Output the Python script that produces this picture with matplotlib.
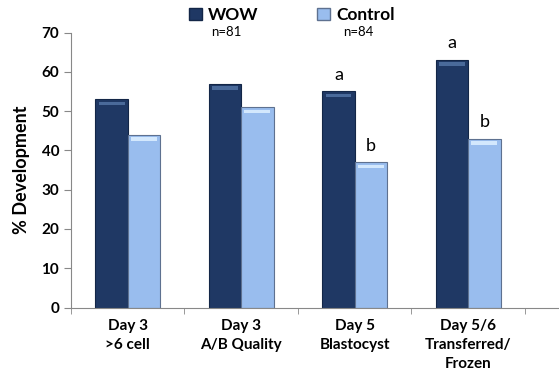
import numpy as np
import matplotlib.pyplot as plt
from matplotlib.patches import Patch

plt.rcParams['font.family'] = ['Lato', 'DejaVu Sans']

categories = ['Day 3\n>6 cell', 'Day 3\nA/B Quality', 'Day 5\nBlastocyst', 'Day 5/6\nTransferred/\nFrozen']
wow = [53, 57, 55, 63]
control = [44, 51, 37, 43]
wow_letters = ['', '', 'a', 'a']
control_letters = ['', '', 'b', 'b']
series_names = ['WOW', 'Control']
n_labels = ['n=81', 'n=84']

dark = '#1F3864'
light = '#99BDEE'

fig = plt.figure(figsize=(5.59, 3.83), dpi=100)
ax = fig.add_axes([0.127, 0.197, 0.873, 0.718])

x = np.arange(len(categories))
w = 0.285

ax.bar(x - w / 2, wow, w, color=dark, edgecolor='#132647', linewidth=0.8, zorder=2)
ax.bar(x + w / 2, control, w, color=light, edgecolor='#5E7190', linewidth=0.8, zorder=2)
# bevel highlight at the top of each bar
ax.bar(x - w / 2, 0.9, w * 0.8, bottom=np.array(wow) - 1.5, color='#4A6A9A', linewidth=0, zorder=3)
ax.bar(x + w / 2, 0.9, w * 0.8, bottom=np.array(control) - 1.5, color='#D3E8FD', linewidth=0, zorder=3)

for i in range(len(categories)):
    if wow_letters[i]:
        ax.text(x[i] - w / 2, wow[i] + 2.2, wow_letters[i], ha='center', va='bottom', fontsize=13)
    if control_letters[i]:
        ax.text(x[i] + w / 2, control[i] + 2.2, control_letters[i], ha='center', va='bottom', fontsize=13)

ax.set_xlim(-0.5, 3.8)
ax.set_ylim(0, 70)
ax.set_yticks(range(0, 71, 10))
ax.set_xticks(x)
ax.set_xticklabels(categories, fontsize=11, fontweight='bold', linespacing=1.45)
ax.set_xticks(np.arange(-0.5, 3.6, 1), minor=True)
ax.tick_params(axis='x', which='major', length=0, pad=8)
ax.tick_params(axis='x', which='minor', length=4, color='#888888')
ax.tick_params(axis='y', length=5, color='#888888', labelsize=11)
for lab in ax.get_yticklabels():
    lab.set_fontweight('bold')

for s in ['top', 'right']:
    ax.spines[s].set_visible(False)
for s in ['left', 'bottom']:
    ax.spines[s].set_color('#888888')

ax.set_ylabel('% Development', fontsize=13, fontweight='bold', labelpad=8)

handles = [Patch(facecolor=dark, edgecolor='#132647'), Patch(facecolor=light, edgecolor='#5E7190')]
fig.legend(handles, series_names, loc='center', bbox_to_anchor=(0.522, 0.96), ncol=2, frameon=False,
           prop={'weight': 'bold', 'size': 12.5}, handlelength=0.72, handleheight=0.72,
           handletextpad=0.35, columnspacing=3.4, borderpad=0)
fig.text(226 / 559, 1 - 32 / 383, n_labels[0], ha='center', va='center', fontsize=9.5)
fig.text(358 / 559, 1 - 32 / 383, n_labels[1], ha='center', va='center', fontsize=9.5)

fig.savefig('out.png', dpi=100)
